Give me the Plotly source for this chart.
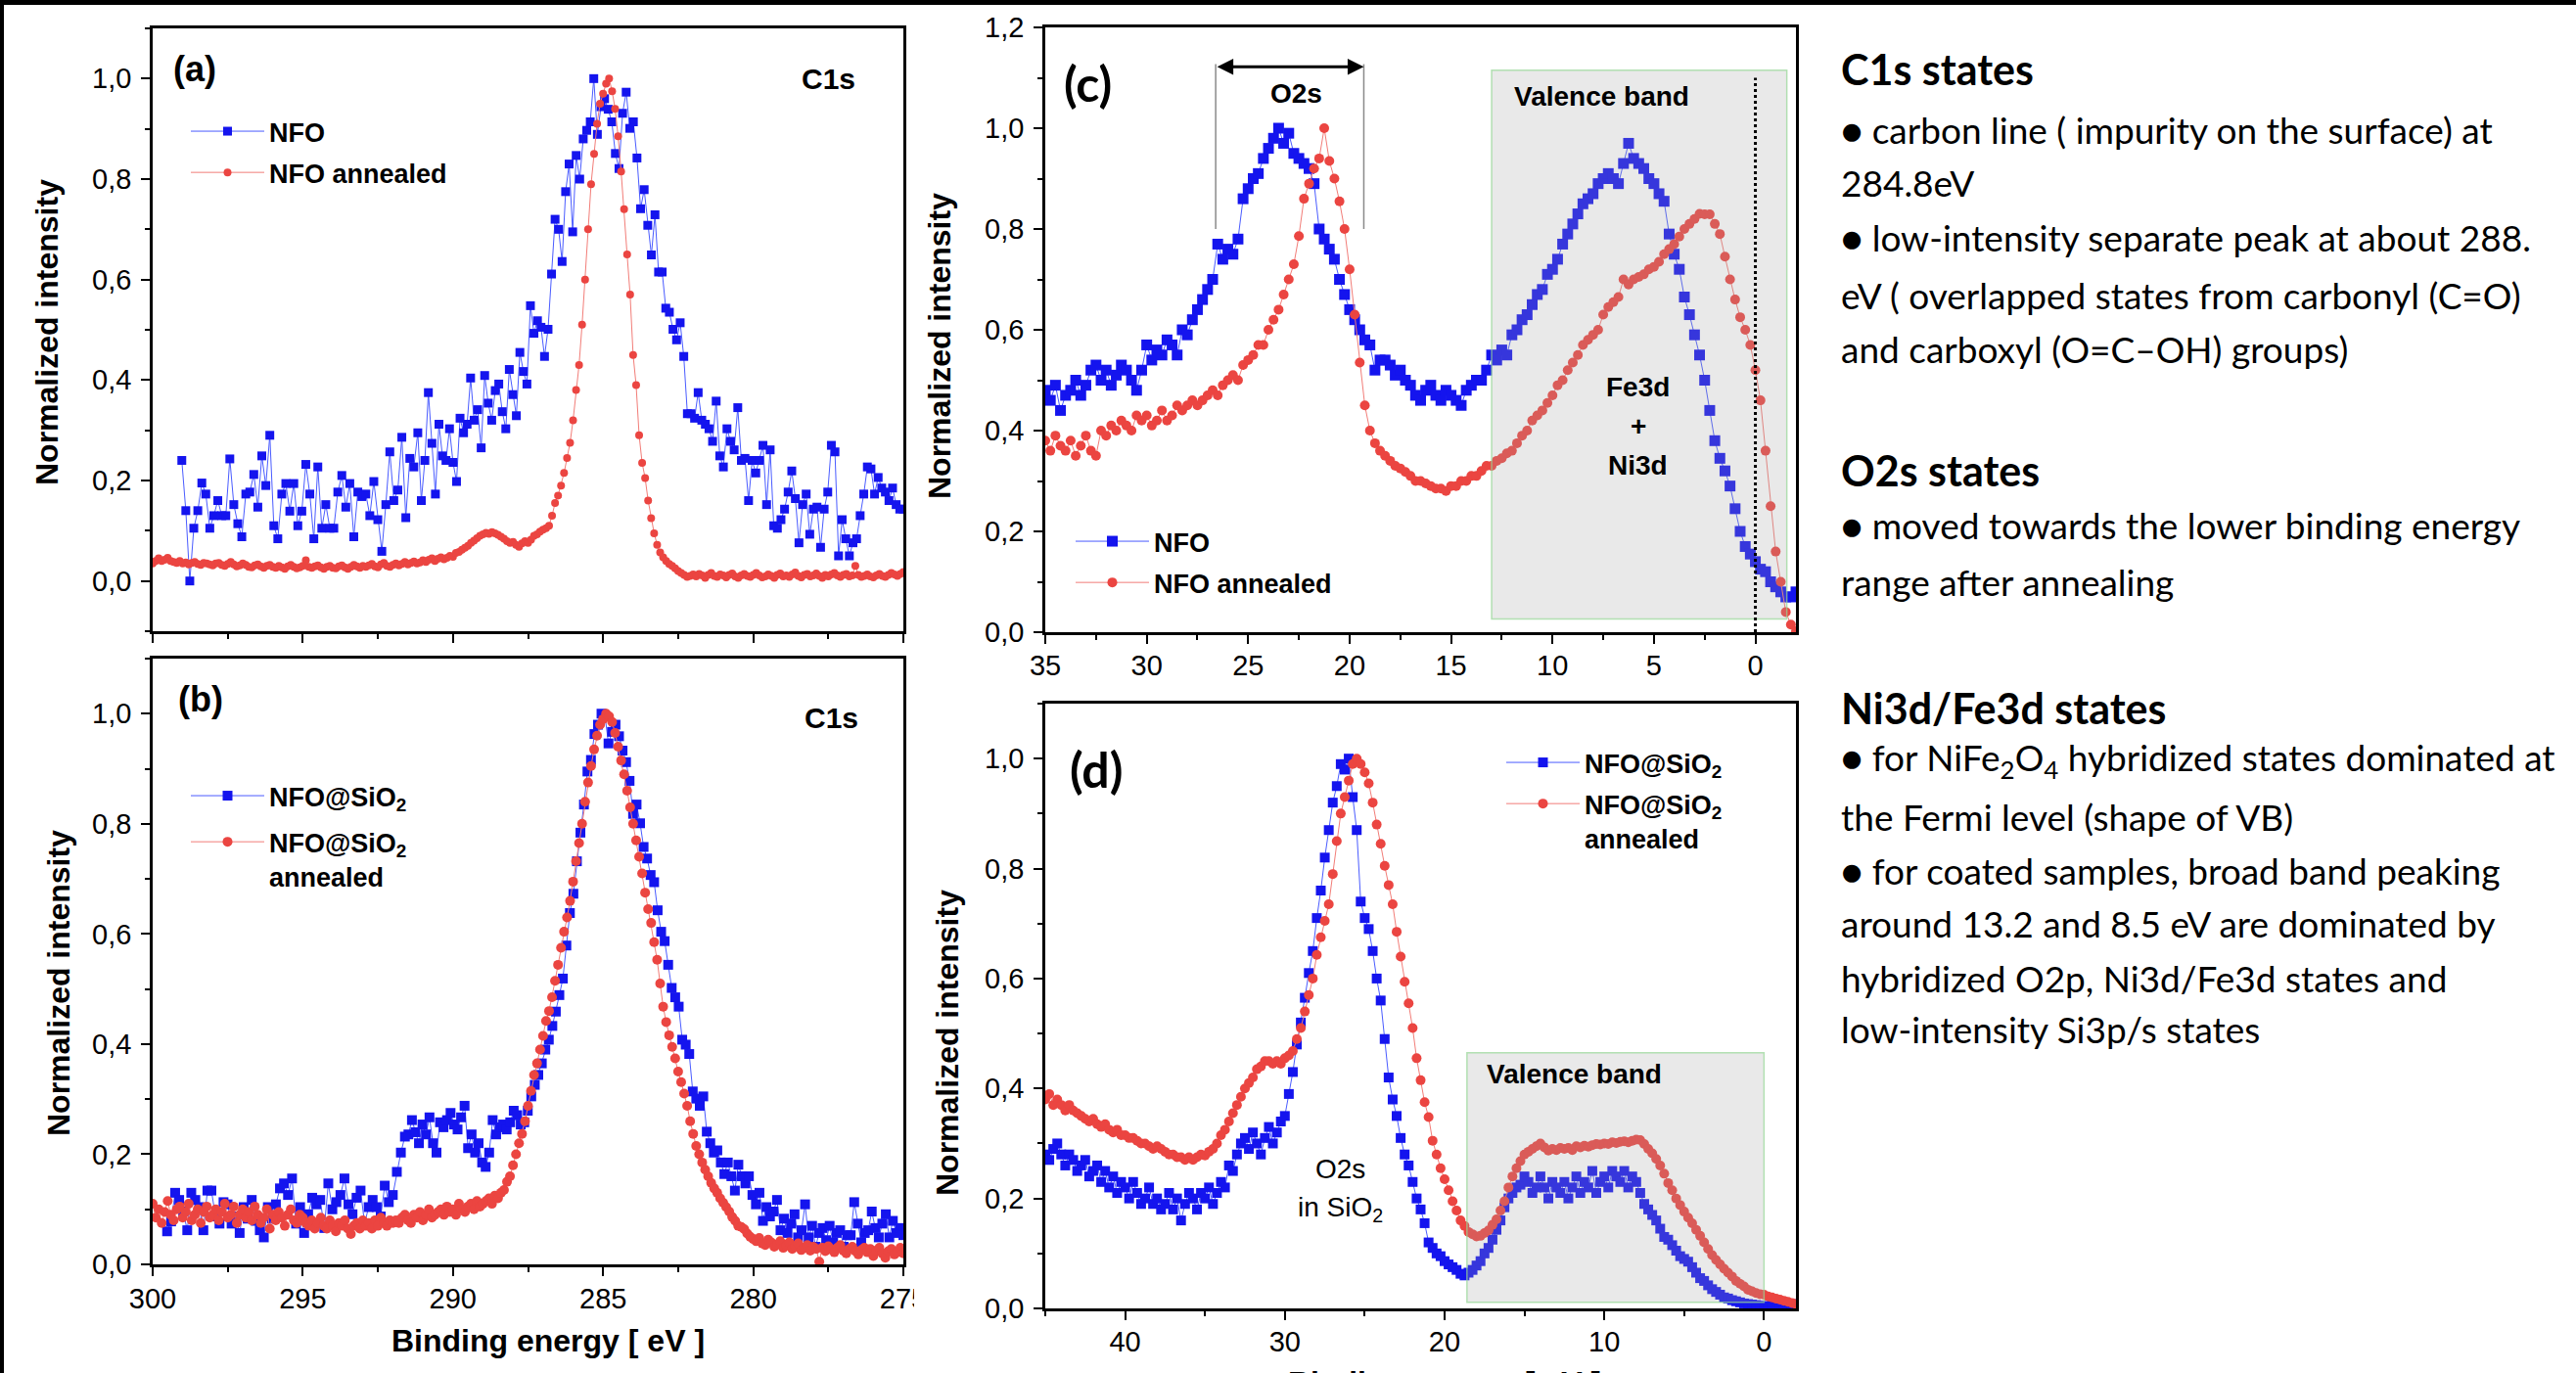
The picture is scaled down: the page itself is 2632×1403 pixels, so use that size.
import numpy as np
import plotly.graph_objects as go

W, H = 2632, 1403

# ---------------- data ----------------
# (a) C1s, NFO: energy anchors (index -> eV) and normalized intensity
A_NFO_IDX = [0, 59, 109, 195]
A_NFO_E = [299.03, 291.17, 285.31, 275.0]
A_NFO = [
    0.24, 0.14, 0.00, 0.105, 0.14, 0.195, 0.173, 0.105, 0.13, 0.16,
    0.13, 0.13, 0.243, 0.152, 0.114, 0.088, 0.173, 0.177, 0.212, 0.147,
    0.249, 0.19, 0.29, 0.11, 0.084, 0.173, 0.194, 0.139, 0.194, 0.11,
    0.139, 0.232, 0.173, 0.084, 0.227, 0.105, 0.152, 0.105, 0.105, 0.177,
    0.21, 0.147, 0.194, 0.088, 0.177, 0.168, 0.173, 0.13, 0.198, 0.122,
    0.059, 0.152, 0.257, 0.16, 0.181, 0.286, 0.126, 0.244, 0.227, 0.295,
    0.16, 0.24, 0.375, 0.274, 0.173, 0.312, 0.249, 0.24, 0.303, 0.236,
    0.198, 0.324, 0.295, 0.312, 0.404, 0.32, 0.341, 0.265, 0.409, 0.354,
    0.32, 0.379, 0.392, 0.337, 0.303, 0.421, 0.371, 0.329, 0.455, 0.417,
    0.392, 0.548, 0.493, 0.518, 0.505, 0.447, 0.501, 0.611, 0.72, 0.70,
    0.636, 0.775, 0.83, 0.695, 0.847, 0.80, 0.88, 0.897, 0.914, 1.0,
    0.889, 0.944, 0.96, 0.939, 0.914, 0.851, 0.821, 0.931, 0.973, 0.901,
    0.914, 0.842, 0.741, 0.779, 0.708, 0.649, 0.729, 0.615, 0.615, 0.543,
    0.535, 0.501, 0.48, 0.514, 0.447, 0.333, 0.333, 0.324, 0.375, 0.32,
    0.312, 0.303, 0.278, 0.358, 0.249, 0.227, 0.303, 0.278, 0.261, 0.345,
    0.24, 0.244, 0.16, 0.24, 0.215, 0.24, 0.27, 0.152, 0.261, 0.11,
    0.105, 0.122, 0.143, 0.177, 0.219, 0.164, 0.076, 0.152, 0.173, 0.093,
    0.143, 0.147, 0.067, 0.143, 0.177, 0.27, 0.257, 0.05, 0.122, 0.084,
    0.05, 0.076, 0.084, 0.13, 0.173, 0.227, 0.223, 0.173, 0.206, 0.185,
    0.177, 0.16, 0.185, 0.152, 0.143, 0.143,
]
# (a) C1s, NFO annealed: 300.0 -> 275.0 eV, 0.1 eV step
A_ANN_START, A_ANN_STEP = 300.0, 0.1
A_ANN = [
    .035, .04, .045, .04, .042, .046, .04, .038, .036, .04,
    .035, .037, .033, .036, .038, .034, .032, .036, .035, .033,
    .031, .035, .036, .032, .03, .034, .038, .033, .029, .031,
    .035, .032, .028, .027, .031, .033, .029, .026, .03, .032,
    .028, .026, .03, .027, .024, .029, .032, .028, .025, .027,
    .03, .041, .028, .026, .029, .031, .027, .024, .028, .03,
    .026, .025, .029, .031, .027, .024, .028, .032, .029, .026,
    .03, .028, .031, .034, .029, .027, .033, .036, .03, .028,
    .032, .035, .031, .034, .038, .033, .036, .039, .035, .037,
    .041, .038, .042, .045, .04, .044, .047, .043, .046, .05,
    .048, .056, .058, .062, .066, .07, .076, .08, .085, .09,
    .093, .096, .094, .097, .095, .092, .088, .084, .079, .076,
    .078, .072, .068, .075, .079, .076, .082, .09, .093, .098,
    .102, .105, .11, .13, .155, .17, .19, .215, .245, .275,
    .32, .38, .43, .51, .6, .7, .79, .85, .91, .95,
    .97, .99, 1.0, .975, .94, .885, .815, .74, .65, .57,
    .45, .39, .29, .235, .205, .16, .125, .095, .072, .057,
    .047, .04, .034, .03, .025, .02, .016, .012, .008, .01,
    .013, .009, .014, .011, .006, .012, .016, .01, .008, .013,
    .011, .007, .012, .015, .009, .006, .011, .014, .01, .008,
    .012, .016, .011, .007, .009, .013, .01, .006, .012, .015,
    .009, .011, .008, .013, .017, .01, .007, .012, .014, .009,
    .011, .015, .01, .006, .012, .009, .013, .016, .011, .008,
    .012, .014, .009, .011, .03, .012, .008, .01, .013, .009,
    .007, .011, .014, .01, .008, .012, .016, .013, .01, .014,
    .018,
]
# (b) C1s, NFO@SiO2
B_SIO_IDX = [0, 59, 201]
B_SIO_E = [299.52, 291.60, 275.0]
B_SIO = [
    0.06, 0.078, 0.13, 0.117, 0.096, 0.062, 0.13, 0.117, 0.104, 0.062,
    0.134, 0.134, 0.087, 0.074, 0.113, 0.109, 0.074, 0.087, 0.057, 0.104,
    0.083, 0.117, 0.079, 0.062, 0.049, 0.104, 0.083, 0.109, 0.138, 0.147,
    0.126, 0.156, 0.074, 0.104, 0.057, 0.091, 0.121, 0.109, 0.117, 0.066,
    0.147, 0.1, 0.113, 0.126, 0.156, 0.109, 0.091, 0.121, 0.134, 0.074,
    0.104, 0.117, 0.104, 0.087, 0.143, 0.113, 0.126, 0.168, 0.203, 0.232,
    0.236, 0.262, 0.24, 0.22, 0.254, 0.236, 0.267, 0.22, 0.203, 0.258,
    0.249, 0.262, 0.275, 0.254, 0.245, 0.267, 0.288, 0.211, 0.236, 0.203,
    0.22, 0.185, 0.177, 0.203, 0.262, 0.236, 0.249, 0.254, 0.245, 0.258,
    0.279, 0.271, 0.254, 0.258, 0.279, 0.305, 0.326, 0.344, 0.365, 0.39,
    0.408, 0.433, 0.459, 0.489, 0.519, 0.579, 0.638, 0.673, 0.732, 0.784,
    0.835, 0.895, 0.916, 0.963, 0.98, 1.0, 0.996, 0.946, 0.967, 0.98,
    0.959, 0.933, 0.912, 0.878, 0.818, 0.835, 0.801, 0.758, 0.737, 0.707,
    0.694, 0.643, 0.604, 0.587, 0.544, 0.502, 0.485, 0.468, 0.408, 0.399,
    0.382, 0.314, 0.301, 0.288, 0.305, 0.241, 0.22, 0.203, 0.207, 0.185,
    0.164, 0.185, 0.16, 0.134, 0.181, 0.16, 0.147, 0.16, 0.126, 0.109,
    0.13, 0.079, 0.104, 0.087, 0.096, 0.117, 0.062, 0.083, 0.057, 0.074,
    0.091, 0.049, 0.062, 0.109, 0.049, 0.07, 0.032, 0.057, 0.066, 0.044,
    0.07, 0.04, 0.057, 0.062, 0.032, 0.053, 0.053, 0.113, 0.074, 0.04,
    0.057, 0.062, 0.096, 0.066, 0.049, 0.074, 0.091, 0.049, 0.079, 0.057,
    0.066, 0.053,
]
# (b) C1s, NFO@SiO2 annealed: 300.0 -> 275.0 eV, 0.1 eV step
B_ANN_START, B_ANN_STEP = 300.0, 0.1
B_ANN = [
    .11, .085, .1, .075, .095, .115, .09, .08, .1, .105,
    .085, .095, .11, .08, .09, .1, .075, .095, .105, .085,
    .09, .1, .08, .095, .11, .085, .09, .105, .075, .09,
    .1, .085, .095, .08, .105, .09, .075, .085, .1, .065,
    .09, .08, .095, .085, .07, .09, .1, .08, .075, .09,
    .085, .075, .07, .08, .065, .075, .085, .07, .065, .08,
    .07, .06, .075, .07, .08, .065, .055, .07, .075, .065,
    .08, .07, .075, .065, .08, .07, .085, .075, .07, .08,
    .075, .08, .075, .085, .09, .08, .075, .09, .085, .095,
    .08, .09, .1, .085, .09, .095, .1, .09, .105, .095,
    .1, .09, .11, .1, .095, .105, .11, .1, .115, .105,
    .11, .115, .12, .11, .125, .12, .13, .135, .15, .16,
    .18, .2, .22, .237, .26, .288, .315, .344, .365, .39,
    .415, .442, .46, .485, .515, .544, .575, .604, .63, .66,
    .695, .732, .765, .8, .84, .875, .905, .935, .96, .98,
    .99, 1.0, .995, .985, .965, .94, .915, .89, .86, .83,
    .8, .77, .74, .71, .675, .645, .62, .585, .553, .51,
    .468, .44, .416, .395, .374, .35, .331, .31, .288, .26,
    .237, .215, .2, .185, .172, .16, .148, .138, .13, .12,
    .112, .104, .096, .086, .079, .07, .068, .064, .056, .05,
    .046, .042, .048, .038, .035, .045, .04, .032, .036, .042,
    .03, .034, .04, .028, .033, .038, .026, .03, .035, .025,
    .032, .028, .005, .03, .024, .033, .027, .022, .03, .035,
    .025, .02, .028, .032, .024, .018, .026, .03, .022, .028,
    .015, .025, .03, .02, .012, .024, .028, .018, .022, .03,
    .02,
]
# (c) valence region: 35.0 -> -2.0 eV, 0.25 eV step
C_START, C_STEP = 35.0, 0.25
C_NFO = [
    .48, .46, .49, .44, .47, .48, .5, .47, .49, .52,
    .53, .5, .52, .49, .51, .53, .52, .5, .48, .52,
    .57, .54, .56, .55, .58, .57, .55, .6, .59, .62,
    .64, .66, .68, .7, .77, .74, .76, .75, .78, .86,
    .88, .9, .91, .94, .96, .98, 1.0, .97, .99, .95,
    .94, .93, .92, .89, .8, .78, .76, .74, .7, .67,
    .64, .62, .6, .58, .57, .52, .54, .54, .53, .51,
    .52, .5, .49, .47, .46, .48, .49, .47, .46, .48,
    .47, .46, .45, .48, .49, .5, .5, .52, .55, .54,
    .56, .55, .59, .6, .62, .63, .65, .67, .68, .71,
    .72, .74, .77, .79, .81, .83, .85, .86, .87, .89,
    .9, .91, .9, .89, .93, .97, .94, .93, .92, .9,
    .89, .87, .855, .79, .75, .72, .665, .63, .59, .55,
    .5, .44, .38, .345, .32, .29, .245, .2, .17, .155,
    .14, .125, .12, .1, .09, .08, .07, .07, .08,
]
C_ANN = [
    .38, .36, .39, .37, .36, .38, .35, .37, .39, .36,
    .35, .4, .39, .41, .4, .42, .41, .4, .43, .42,
    .43, .41, .42, .44, .42, .43, .45, .44, .45, .46,
    .45, .46, .47, .48, .47, .49, .5, .51, .5, .53,
    .54, .55, .57, .57, .6, .62, .64, .67, .7, .73,
    .786, .86, .89, .92, .94, 1.0, .935, .9, .855, .8,
    .72, .63, .535, .45, .4, .375, .36, .35, .34, .33,
    .325, .318, .31, .3, .3, .295, .29, .285, .285, .28,
    .29, .29, .3, .3, .31, .31, .32, .33, .33, .34,
    .345, .355, .36, .375, .39, .4, .42, .43, .44, .455,
    .47, .49, .5, .52, .535, .55, .57, .58, .59, .6,
    .63, .645, .655, .665, .7, .69, .7, .705, .71, .72,
    .725, .735, .75, .76, .77, .785, .8, .81, .82, .83,
    .829, .829, .81, .79, .745, .7, .66, .625, .6, .57,
    .52, .46, .36, .25, .16, .1, .04, .015, .002,
]
# (d) valence region: 45.0 -> -2.0 eV, 0.25 eV step
D_START, D_STEP = 45.0, 0.25
D_SIO = [
    .28, .27, .29, .3, .28, .26, .28, .27, .25, .26,
    .27, .24, .25, .26, .23, .25, .22, .24, .21, .23,
    .22, .2, .23, .21, .19, .2, .22, .19, .2, .18,
    .19, .21, .18, .2, .16, .19, .21, .2, .18, .21,
    .2, .22, .19, .21, .23, .22, .26, .25, .28, .3,
    .31, .29, .32, .3, .28, .31, .33, .3, .32, .34,
    .35, .39, .43, .48, .52, .565, .61, .65, .71, .76,
    .82, .87, .92, .95, .99, .98, 1.0, .93, .87, .74,
    .71, .69, .65, .6, .56, .49, .42, .38, .35, .31,
    .28, .26, .23, .2, .18, .155, .12, .11, .1, .095,
    .086, .08, .075, .07, .063, .06, .065, .07, .078, .086,
    .1, .11, .125, .143, .16, .184, .2, .21, .22, .225,
    .24, .23, .21, .22, .24, .22, .2, .23, .22, .21,
    .23, .2, .22, .24, .21, .23, .22, .25, .21, .23,
    .24, .22, .25, .24, .23, .25, .22, .24, .23, .21,
    .19, .18, .17, .16, .145, .13, .125, .115, .105, .095,
    .09, .085, .075, .065, .055, .05, .042, .035, .03, .025,
    .02, .018, .015, .013, .011, .009, .008, .007, .006, .005,
    .004, .004, .005, .004, .006, .005, .007, .006, .008,
]
D_ANN = [
    .38, .39, .37, .38, .37, .36, .37, .36, .355, .35,
    .345, .34, .345, .335, .33, .335, .325, .32, .325, .315,
    .315, .31, .31, .305, .3, .3, .295, .29, .295, .29,
    .285, .28, .28, .275, .275, .27, .275, .27, .275, .28,
    .278, .285, .29, .3, .315, .325, .34, .355, .37, .385,
    .4, .41, .42, .435, .44, .45, .45, .445, .45, .445,
    .455, .46, .468, .49, .51, .54, .57, .6, .643, .675,
    .705, .735, .79, .85, .9, .93, .96, .99, 1.0, .99,
    .975, .955, .92, .88, .845, .805, .77, .735, .685, .64,
    .594, .555, .51, .455, .415, .375, .348, .305, .28, .255,
    .235, .215, .195, .178, .16, .15, .139, .135, .131, .132,
    .137, .142, .152, .162, .178, .195, .22, .24, .255, .268,
    .28, .285, .29, .295, .3, .293, .287, .29, .288, .292,
    .29, .292, .288, .295, .293, .296, .294, .297, .299, .298,
    .3, .299, .302, .301, .303, .304, .302, .305, .307, .306,
    .299, .29, .282, .272, .26, .245, .228, .215, .2, .188,
    .176, .165, .155, .143, .132, .12, .108, .097, .088, .08,
    .072, .065, .058, .05, .045, .04, .034, .031, .028, .026,
    .025, .022, .02, .018, .016, .014, .012, .01, .008,
]

# axis ranges / annotation values
C1S_RANGE = [300, 275]
C_RANGE = [35, -2]
D_RANGE = [45, -2]
C_VB = [13.0, -1.55, 0.026, 1.115]   # x0, x1, y0, y1 of the shaded valence band in (c)
D_VB = [18.6, 0.0, 0.011, 0.465]
O2S_ARROW = [26.6, 19.3, 1.122, 0.80]  # left, right, arrow level, bracket bottom


def grid(start, step, n):
    return np.round(start - step * np.arange(n), 3)


E_A_NFO = np.interp(np.arange(len(A_NFO)), A_NFO_IDX, A_NFO_E)
E_A_ANN = grid(A_ANN_START, A_ANN_STEP, len(A_ANN))
E_B_SIO = np.interp(np.arange(len(B_SIO)), B_SIO_IDX, B_SIO_E)
E_B_ANN = grid(B_ANN_START, B_ANN_STEP, len(B_ANN))
E_C_NFO = grid(C_START, C_STEP, len(C_NFO))
E_C_ANN = grid(C_START, C_STEP, len(C_ANN))
E_D_SIO = grid(D_START, D_STEP, len(D_SIO))
E_D_ANN = grid(D_START, D_STEP, len(D_ANN))

# ---------------- style ----------------
BLUE = "#1414ee"
BLUE_LINE = "#4a5cff"
RED = "#eb4541"
RED_LINE = "#f27d78"
AXF = "Liberation Sans, Arial, sans-serif"
TXF = "Lato, Carlito, Calibri, sans-serif"


def px_x(p):
    return p / W


def px_y(p):
    return 1 - p / H


def trace(x, y, ax, name, legend, sym, size, color, lcolor, group):
    return go.Scatter(
        x=x, y=y, xaxis=ax[0], yaxis=ax[1], name=name, legend=legend, legendgroup=group,
        mode="lines+markers",
        marker=dict(symbol=sym, size=size, color=color, line=dict(width=0)),
        line=dict(color=lcolor, width=1),
    )


fig = go.Figure()
fig.add_trace(trace(E_A_NFO, A_NFO, ("x", "y"), "NFO", "legend", "square", 9, BLUE, BLUE_LINE, "a1"))
fig.add_trace(trace(E_A_ANN, A_ANN, ("x", "y"), "NFO annealed", "legend", "circle", 8, RED, RED_LINE, "a2"))
fig.add_trace(trace(E_B_SIO, B_SIO, ("x2", "y2"), "NFO@SiO<sub>2</sub>", "legend2", "square", 10, BLUE, BLUE_LINE, "b1"))
fig.add_trace(trace(E_B_ANN, B_ANN, ("x2", "y2"), "NFO@SiO<sub>2</sub><br>annealed", "legend2", "circle", 10, RED, RED_LINE, "b2"))
fig.add_trace(trace(E_C_NFO, C_NFO, ("x3", "y3"), "NFO", "legend3", "square", 11, BLUE, BLUE_LINE, "c1"))
fig.add_trace(trace(E_C_ANN, C_ANN, ("x3", "y3"), "NFO annealed", "legend3", "circle", 10, RED, RED_LINE, "c2"))
fig.add_trace(trace(E_D_SIO, D_SIO, ("x4", "y4"), "NFO@SiO<sub>2</sub>", "legend4", "square", 10, BLUE, BLUE_LINE, "d1"))
fig.add_trace(trace(E_D_ANN, D_ANN, ("x4", "y4"), "NFO@SiO<sub>2</sub><br>annealed", "legend4", "circle", 10, RED, RED_LINE, "d2"))

TICKFONT = dict(family=AXF, size=29, color="black")


def main_x(domain, anchor, rng, dtick, minor, labels=True, standoff=0):
    return dict(domain=domain, anchor=anchor, range=rng, showgrid=False, zeroline=False,
                automargin=False,
                showline=True, linecolor="black", linewidth=2.5, mirror=True,
                ticks="outside", ticklen=9, tickwidth=2, tickcolor="black",
                tick0=0, dtick=dtick, showticklabels=labels, tickfont=TICKFONT,
                ticklabelstandoff=standoff,
                minor=dict(tick0=0, dtick=minor, ticks="outside", ticklen=5, tickwidth=2,
                           tickcolor="black"))


def main_y(domain, anchor, rng, standoff=4):
    return dict(domain=domain, anchor=anchor, range=rng, showgrid=False, zeroline=False,
                automargin=False,
                showline=True, linecolor="black", linewidth=2.5, mirror=True,
                ticks="outside", ticklen=9, tickwidth=2, tickcolor="black",
                tick0=0, dtick=0.2, tickformat=".1f", tickfont=TICKFONT,
                ticklabelstandoff=standoff,
                minor=dict(tick0=0, dtick=0.1, ticks="outside", ticklen=5, tickwidth=2,
                           tickcolor="black"))


def over_x(over, anchor, rng, dtick, minor):
    return dict(overlaying=over, anchor=anchor, side="top", range=rng, showgrid=False,
                zeroline=False, showline=False, automargin=False,
                ticks="inside", ticklen=9, tickwidth=2,
                tickcolor="black", tick0=0, dtick=dtick, showticklabels=False,
                minor=dict(tick0=0, dtick=minor, ticks="inside", ticklen=5, tickwidth=2,
                           tickcolor="black"))


def over_y(over, anchor, rng):
    return dict(overlaying=over, anchor=anchor, side="right", range=rng, showgrid=False,
                zeroline=False, showline=False, automargin=False,
                ticks="inside", ticklen=9, tickwidth=2,
                tickcolor="black", tick0=0, dtick=0.2, showticklabels=False,
                minor=dict(tick0=0, dtick=0.1, ticks="inside", ticklen=5, tickwidth=2,
                           tickcolor="black"))


XL = [px_x(156), px_x(923)]
XR = [px_x(1068), px_x(1835)]
YA = [px_y(645), px_y(29)]
YB = [px_y(1292), px_y(673)]
YC = [px_y(646), px_y(28)]
YD = [px_y(1337), px_y(719)]

A_Y = [-0.1, 1.1]
B_Y = [0, 1.1]
C_Y = [0, 1.2]
D_Y = [0, 1.1]

LEGFONT = dict(family=AXF, size=27, color="black", weight="bold")


def leg(xp, yp, gap=4):
    return dict(x=px_x(xp), y=px_y(yp), xanchor="left", yanchor="top",
                bgcolor="rgba(0,0,0,0)", font=LEGFONT, itemwidth=75,
                traceorder="grouped", tracegroupgap=gap, valign="top", itemclick=False)


fig.update_layout(
    width=W, height=H, margin=dict(l=0, r=0, t=0, b=0, autoexpand=False),
    paper_bgcolor="white", plot_bgcolor="rgba(0,0,0,0)",
    separators=", ", showlegend=True,
    xaxis=main_x(XL, "y", C1S_RANGE, 5, 2.5, labels=False),
    yaxis=main_y(YA, "x", A_Y),
    xaxis2=main_x(XL, "y2", C1S_RANGE, 5, 2.5, standoff=-2),
    yaxis2=main_y(YB, "x2", B_Y),
    xaxis3=main_x(XR, "y3", C_RANGE, 5, 2.5, standoff=-3),
    yaxis3=main_y(YC, "x3", C_Y),
    xaxis4=main_x(XR, "y4", D_RANGE, 10, 5, standoff=-3),
    yaxis4=main_y(YD, "x4", D_Y),
    xaxis5=over_x("x", "y", C1S_RANGE, 5, 2.5),
    yaxis5=over_y("y", "x", A_Y),
    xaxis6=over_x("x2", "y2", C1S_RANGE, 5, 2.5),
    yaxis6=over_y("y2", "x2", B_Y),
    xaxis7=over_x("x3", "y3", C_RANGE, 5, 2.5),
    yaxis7=over_y("y3", "x3", C_Y),
    xaxis8=over_x("x4", "y4", D_RANGE, 10, 5),
    yaxis8=over_y("y4", "x4", D_Y),
    legend=leg(190, 110),
    legend2=leg(190, 789, gap=9),
    legend3=leg(1094, 529),
    legend4=leg(1534, 755),
)

# ---------------- shapes ----------------
shapes = []
for (xr, yr, vb) in (("x3", "y3", C_VB), ("x4", "y4", D_VB)):
    shapes.append(dict(type="rect", xref=xr, yref=yr, x0=vb[0], x1=vb[1], y0=vb[2], y1=vb[3],
                       fillcolor="rgba(165,165,165,0.24)",
                       line=dict(color="rgba(150,215,150,0.7)", width=1.5), layer="above"))
shapes.append(dict(type="line", xref="x3", yref="y3", x0=0, x1=0, y0=0, y1=1.1,
                   line=dict(color="black", width=3, dash="dot"), layer="above"))
for xv in (O2S_ARROW[0], O2S_ARROW[1]):
    shapes.append(dict(type="line", xref="x3", yref="y3", x0=xv, x1=xv,
                       y0=O2S_ARROW[3], y1=O2S_ARROW[2] + 0.005,
                       line=dict(color="#8a8a8a", width=1.5), layer="above"))
# crop edge of panel (b) in the composite (the last tick label is cut)
shapes.append(dict(type="rect", xref="paper", yref="paper", x0=px_x(934), x1=px_x(975),
                   y0=px_y(1350), y1=px_y(1300), fillcolor="white", line=dict(width=0),
                   layer="above"))
# outer frame of the composite image (top and left edges)
shapes.append(dict(type="line", xref="paper", yref="paper", x0=0, x1=1, y0=1, y1=1,
                   line=dict(color="black", width=10)))
shapes.append(dict(type="line", xref="paper", yref="paper", x0=0, x1=0, y0=0, y1=1,
                   line=dict(color="black", width=8)))
fig.update_layout(shapes=shapes)

# ---------------- annotations ----------------
ann = []


def txt(text, x, y, xref, yref, size, family=AXF, bold=True, xanchor="center",
        yanchor="middle", angle=0):
    ann.append(dict(text=text, x=x, y=y, xref=xref, yref=yref, showarrow=False,
                    xanchor=xanchor, yanchor=yanchor, textangle=angle,
                    font=dict(family=family, size=size, color="black",
                              weight="bold" if bold else "normal")))


# panel labels and inner texts
txt("(a)", 298.6, 1.02, "x", "y", 36)
txt("C1s", 277.5, 1.0, "x", "y", 30)
txt("(b)", 298.4, 1.027, "x2", "y2", 36)
txt("C1s", 277.4, 0.993, "x2", "y2", 30)
txt("(c)", 32.9, 1.089, "x3", "y3", 50, family=TXF)
txt("O2s", 22.63, 1.068, "x3", "y3", 28)
txt("Valence band", 7.57, 1.063, "x3", "y3", 28)
txt("Fe3d", 5.77, 0.487, "x3", "y3", 28)
txt("+", 5.77, 0.409, "x3", "y3", 28)
txt("Ni3d", 5.77, 0.331, "x3", "y3", 28)
txt("(d)", 41.8, 0.98, "x4", "y4", 50, family=TXF)
txt("Valence band", 11.85, 0.426, "x4", "y4", 28)
txt("O2s", 26.5, 0.254, "x4", "y4", 28, bold=False)
txt("in SiO<sub>2</sub>", 26.5, 0.18, "x4", "y4", 28, bold=False)

# O2s double arrow
ann.append(dict(x=O2S_ARROW[1], y=O2S_ARROW[2], ax=O2S_ARROW[0], ay=O2S_ARROW[2],
                xref="x3", yref="y3", axref="x3", ayref="y3", text="", showarrow=True,
                arrowhead=2, arrowside="end+start", arrowsize=1.1, arrowwidth=3,
                arrowcolor="black"))

# axis titles
txt("Normalized intensity", px_x(48), px_y(340), "paper", "paper", 32, angle=-90)
txt("Normalized intensity", px_x(60), px_y(1005), "paper", "paper", 32, angle=-90)
txt("Normalized intensity", px_x(960), px_y(354), "paper", "paper", 32, angle=-90)
txt("Normalized intensity", px_x(968), px_y(1066), "paper", "paper", 32, angle=-90)
txt("Binding energy [ eV ]", px_x(560), px_y(1370), "paper", "paper", 32)
txt("Binding energy [ eV ]", px_x(1476), px_y(1393), "paper", "paper", 32, yanchor="top")

# right-hand text panel
TX0 = px_x(1879)
NOTES = [
    ("C1s states", 71, True),
    ("● carbon line ( impurity on the surface) at", 132, False),
    ("284.8eV", 187, False),
    ("● low-intensity separate peak at about 288.", 243, False),
    ("eV ( overlapped states from carbonyl (C=O)", 301, False),
    ("and carboxyl (O=C–OH) groups)", 357, False),
    ("O2s states", 480, True),
    ("● moved towards the lower binding energy", 536, False),
    ("range after annealing", 594, False),
    ("Ni3d/Fe3d states", 723, True),
    ("● for NiFe<sub>2</sub>O<sub>4</sub> hybridized states dominated at", 776, False),
    ("the Fermi level (shape of VB)", 835, False),
    ("● for coated samples, broad band peaking", 889, False),
    ("around 13.2 and 8.5 eV are dominated by", 943, False),
    ("hybridized O2p, Ni3d/Fe3d states and", 999, False),
    ("low-intensity Si3p/s states", 1051, False),
]
for text, ypx, bold in NOTES:
    txt(text, TX0, px_y(ypx), "paper", "paper", 43 if bold else 37, family=TXF, bold=bold,
        xanchor="left")

fig.update_layout(annotations=ann)

fig.write_html("out.html", config={"displayModeBar": False},
               post_script="document.body.style.margin='0px';")
